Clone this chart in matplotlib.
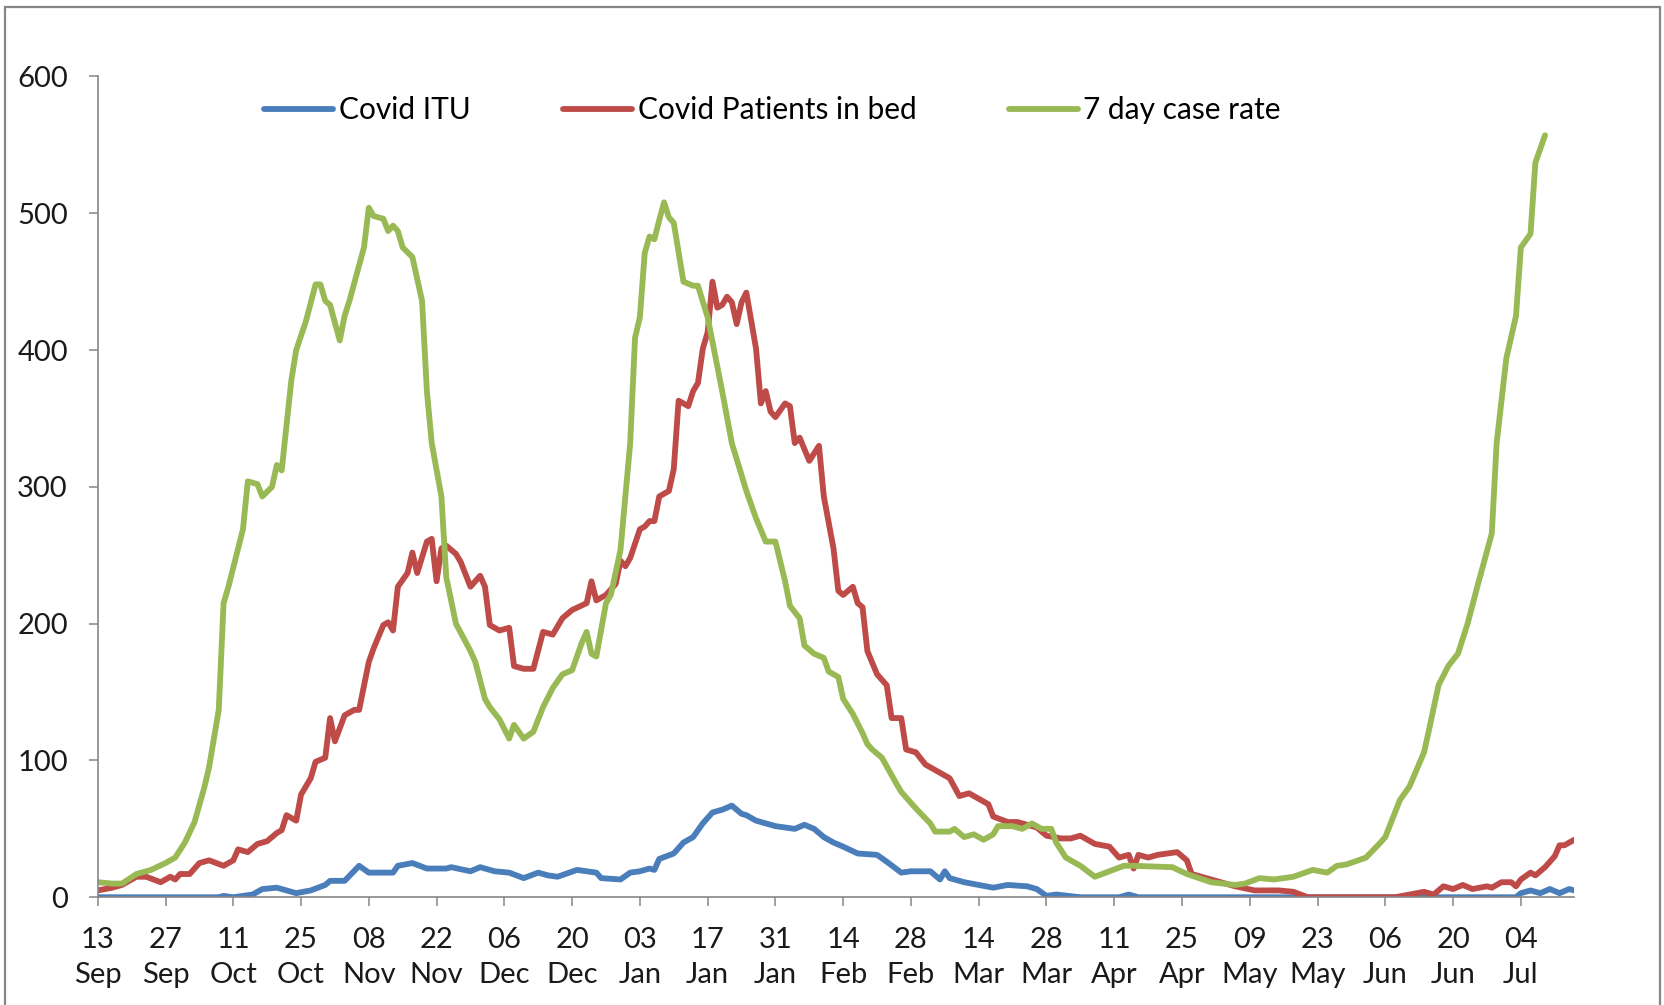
import pandas as pd
import matplotlib
matplotlib.use("Agg")
import matplotlib.pyplot as plt
import matplotlib.dates as mdates
from matplotlib.patches import Rectangle

plt.rcParams['font.family'] = ['Lato', 'DejaVu Sans']

start = pd.Timestamp('2020-09-13')
end_day = 305

# day offsets from 13 Sep 2020 and values
itu_days = [0, 25, 26, 28, 30, 32, 34, 37, 39, 41, 44, 47, 48, 51, 54, 56, 59, 61, 62, 65,
            68, 72, 73, 77, 79, 82, 85, 88, 91, 93, 95, 99, 103, 104, 108, 110, 112, 114, 115, 116,
            119, 121, 123, 125, 127, 129, 131, 133, 134, 136, 138, 140, 144, 146, 148, 150, 152, 154, 157, 161,
            163, 166, 168, 172, 174, 175, 176, 179, 182, 185, 188, 192, 194, 196, 198, 203, 211, 213, 215, 293,
            294, 296, 298, 300, 302, 304, 305]
itu_vals = [0, 0, 1, 0, 1, 2, 6, 7, 5, 3, 5, 9, 12, 12, 23, 18, 18, 18, 23, 25,
            21, 21, 22, 19, 22, 19, 18, 14, 18, 16, 15, 20, 18, 14, 13, 18, 19, 21, 20, 28,
            32, 40, 44, 54, 62, 64, 67, 61, 60, 56, 54, 52, 50, 53, 50, 44, 40, 37, 32, 31,
            26, 18, 19, 19, 13, 19, 14, 11, 9, 7, 9, 8, 6, 1, 2, 0, 0, 2, 0, 0,
            3, 5, 3, 6, 3, 6, 5]

bed_days = [0, 3, 5, 8, 10, 13, 15, 16, 17, 19, 21, 23, 26, 28, 29, 31, 33, 35, 37, 38,
            39, 41, 42, 44, 45, 47, 48, 49, 51, 53, 54, 56, 57, 59, 60, 61, 62, 64, 65, 66,
            68, 69, 70, 71, 72, 74, 75, 77, 79, 80, 81, 83, 85, 86, 88, 90, 92, 94, 96, 98,
            101, 102, 103, 105, 107, 108, 109, 110, 112, 113, 114, 115, 116, 118, 119, 120, 122, 123, 124, 125,
            126, 127, 128, 129, 130, 131, 132, 133, 134, 136, 137, 138, 139, 140, 142, 143, 144, 145, 147, 149,
            150, 152, 153, 154, 156, 157, 158, 159, 161, 163, 164, 166, 167, 169, 171, 173, 175, 176, 178, 180,
            182, 184, 185, 188, 190, 192, 194, 196, 199, 201, 203, 204, 206, 209, 211, 213, 214, 215, 217, 219,
            223, 225, 226, 230, 232, 235, 239, 244, 247, 250, 268, 274, 276, 278, 280, 282, 284, 287, 288, 290,
            292, 293, 294, 296, 297, 299, 301, 302, 303, 305]
bed_vals = [5, 7, 9, 15, 15, 11, 15, 13, 17, 17, 25, 27, 23, 27, 35, 33, 39, 41, 47, 49,
            60, 56, 75, 87, 99, 102, 131, 114, 133, 137, 137, 172, 182, 199, 201, 195, 227, 237, 252, 237,
            260, 262, 231, 255, 257, 251, 245, 227, 235, 227, 199, 195, 197, 169, 167, 167, 194, 192, 204, 210,
            215, 231, 217, 221, 229, 246, 242, 248, 269, 271, 275, 275, 293, 297, 313, 363, 359, 370, 376, 401,
            413, 450, 431, 433, 439, 435, 419, 435, 442, 401, 361, 370, 355, 351, 361, 359, 332, 336, 319, 330,
            293, 255, 224, 221, 227, 215, 212, 180, 163, 155, 131, 131, 108, 106, 97, 93, 89, 87, 74, 76,
            72, 68, 59, 55, 55, 53, 51, 45, 43, 43, 45, 43, 39, 37, 29, 31, 21, 31, 29, 31,
            33, 27, 17, 13, 11, 8, 5, 5, 4, 0, 0, 4, 2, 8, 6, 9, 6, 8, 7, 11,
            11, 8, 13, 18, 16, 22, 30, 38, 38, 42]

rate_days = [0, 3, 5, 8, 11, 14, 16, 18, 20, 22, 23, 25, 26, 27, 30, 31, 33, 34, 36, 37,
             38, 40, 41, 43, 45, 46, 47, 48, 50, 51, 52, 54, 55, 56, 57, 59, 60, 61, 62, 63,
             65, 67, 68, 69, 71, 72, 74, 77, 78, 80, 81, 83, 85, 86, 88, 90, 92, 94, 96, 98,
             100, 101, 102, 103, 105, 106, 108, 110, 111, 112, 113, 114, 115, 116, 117, 118, 119, 121, 123, 124,
             126, 129, 131, 134, 136, 138, 140, 142, 143, 145, 146, 148, 150, 151, 153, 154, 156, 158, 159, 160,
             162, 165, 166, 169, 172, 173, 176, 177, 179, 181, 183, 185, 186, 189, 191, 193, 195, 197, 198, 200,
             203, 206, 209, 212, 214, 222, 225, 230, 235, 237, 240, 243, 247, 251, 254, 256, 258, 262, 265, 266,
             269, 271, 274, 275, 277, 279, 281, 283, 285, 288, 289, 291, 293, 294, 296, 297, 299]
rate_vals = [11, 10, 10, 17, 20, 25, 29, 40, 55, 80, 95, 137, 215, 227, 269, 304, 302, 293, 300, 316,
             312, 378, 400, 421, 448, 448, 436, 433, 407, 425, 436, 462, 475, 504, 498, 496, 487, 491, 487, 475,
             468, 436, 370, 332, 293, 234, 200, 180, 172, 145, 139, 130, 116, 126, 116, 121, 139, 153, 163, 166,
             186, 194, 178, 176, 215, 221, 254, 332, 409, 424, 471, 483, 481, 495, 508, 497, 493, 450, 447, 447,
             424, 370, 332, 297, 277, 260, 260, 231, 213, 204, 184, 178, 175, 165, 161, 145, 134, 120, 112, 108,
             102, 83, 77, 65, 54, 48, 48, 50, 44, 46, 42, 46, 52, 52, 50, 54, 50, 50, 40, 29,
             23, 15, 19, 23, 23, 22, 17, 11, 9, 10, 14, 13, 15, 20, 18, 23, 24, 29, 40, 44,
             71, 81, 106, 122, 155, 169, 178, 200, 227, 266, 332, 394, 425, 475, 485, 537, 557]

series_names = ['Covid ITU', 'Covid Patients in bed', '7 day case rate']
series_colors = ['#4A7EBB', '#BE4B48', '#98B954']
y_ticks = [0, 100, 200, 300, 400, 500, 600]


def to_dates(days):
    return start + pd.to_timedelta(days, unit='D')


fig = plt.figure(figsize=(16.65, 10.05), dpi=100)
ax = fig.add_axes([0.0587, 0.1072, 0.8867, 0.8167])

for days, vals, name, col in zip([itu_days, bed_days, rate_days],
                                 [itu_vals, bed_vals, rate_vals],
                                 series_names, series_colors):
    ax.plot(to_dates(days), vals, color=col, lw=4.2, label=name,
            solid_joinstyle='round', solid_capstyle='round')

ax.set_xlim(start, start + pd.Timedelta(days=end_day))
ax.set_ylim(0, 600)
ax.set_yticks(y_ticks)

ax.set_xticks(pd.date_range(start, periods=22, freq='14D'))
ax.xaxis.set_major_formatter(mdates.DateFormatter('%d\n%b'))
for lab in ax.get_xticklabels():
    lab.set_linespacing(1.4)

for s in ['top', 'right']:
    ax.spines[s].set_visible(False)
for s in ['left', 'bottom']:
    ax.spines[s].set_color('#868686')
    ax.spines[s].set_linewidth(1.2)

ax.tick_params(axis='y', length=6.5, width=1.1, color='#868686', pad=15,
               labelsize=21, labelcolor='#1a1a1a')
ax.tick_params(axis='x', length=6.5, width=1.1, color='#868686', pad=15,
               labelsize=21, labelcolor='#1a1a1a')

ax.legend(loc='center', bbox_to_anchor=(0.457, 0.959), ncol=3, frameon=False,
          fontsize=21.5, handlelength=2.3, handletextpad=0.2, columnspacing=3.1)

# chart area border
fig.patches.append(Rectangle((5 / 1665, -0.05), 1655 / 1665, 1.05 - 7 / 1005,
                             transform=fig.transFigure, fill=False,
                             edgecolor='#868686', lw=1.6, clip_on=False))

fig.savefig('out.png', dpi=100)
